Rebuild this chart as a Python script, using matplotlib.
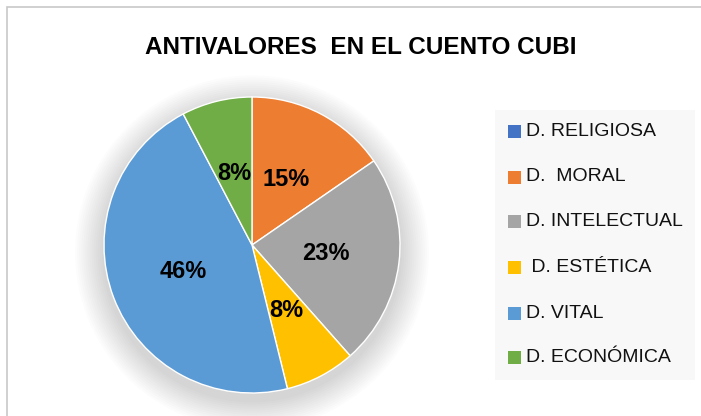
import matplotlib
matplotlib.use("Agg")
import matplotlib.pyplot as plt
from matplotlib.patches import Rectangle, Circle

# datos
categorias = ["D. RELIGIOSA", "D.  MORAL", "D. INTELECTUAL", " D. ESTÉTICA", "D. VITAL", "D. ECONÓMICA"]
valores = [0, 2, 3, 1, 6, 1]
colores = ["#4472C4", "#ED7D31", "#A5A5A5", "#FFC000", "#5B9BD5", "#70AD47"]
titulo = "ANTIVALORES  EN EL CUENTO CUBI"

plt.rcParams['font.family'] = ['Liberation Sans', 'DejaVu Sans']

W, H = 701, 416
fig = plt.figure(figsize=(W / 100, H / 100), dpi=100)
fig.patch.set_facecolor("white")

# marco gris (solo se ven los bordes izquierdo y superior)
fig.patches.append(Rectangle((7 / W, -0.1), 1.2, (H - 7) / H + 0.1, transform=fig.transFigure,
                             fill=False, edgecolor="#C8C8C8", lw=1.2))

fig.text(361 / W, 1 - 48 / H, titulo, ha="center", va="center", fontsize=17.5, fontweight="bold")

ax = fig.add_axes([104 / W, (H - 393) / H, 296 / W, 296 / H])
ax.axis("off")

# sombra suave
for i in range(14):
    c = Circle((0.0, -0.05), 1.0 + 0.014 * (14 - i), color="#000000", alpha=0.011, lw=0, zorder=0)
    c.set_clip_on(False)
    ax.add_patch(c)


def pct(p):
    return "" if p < 0.5 else "%d%%" % round(p)


wedges, _, autotexts = ax.pie(valores, colors=colores, startangle=90, counterclock=False,
                              autopct=pct, pctdistance=0.5, radius=1.0,
                              wedgeprops=dict(edgecolor="white", linewidth=1.0),
                              textprops=dict(fontsize=17, fontweight="bold", color="black"))
for w in wedges:
    w.set_zorder(2)
for t in autotexts:
    t.set_zorder(3)
ax.set_xlim(-1.0, 1.0)
ax.set_ylim(-1.0, 1.0)
ax.set_aspect("equal")

# leyenda
fig.patches.append(Rectangle((495 / W, 1 - 380 / H), 200 / W, 270 / H, transform=fig.transFigure,
                             facecolor="#F8F8F8", edgecolor="none"))
ys = [131, 177, 221, 267, 313, 357]
for cat, col, y in zip(categorias, colores, ys):
    fig.patches.append(Rectangle((508 / W, 1 - (y + 7) / H), 13 / W, 13 / H, transform=fig.transFigure,
                                 facecolor=col, edgecolor="none"))
    fig.text(526 / W, 1 - y / H, cat, ha="left", va="center", fontsize=14, color="#111111")

fig.savefig("out.png", dpi=100)
